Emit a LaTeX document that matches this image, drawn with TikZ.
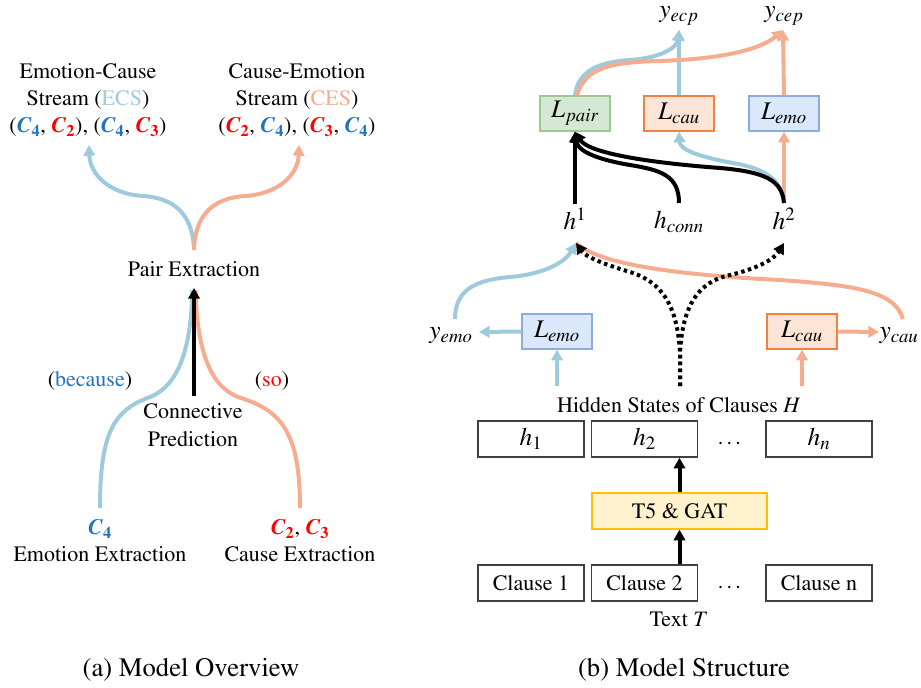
\documentclass[tikz,border=0pt]{standalone}
\usepackage[T1]{fontenc}
\usepackage{mathptmx}
\usetikzlibrary{arrows.meta}
\definecolor{lblue}{RGB}{158,202,222}
\definecolor{lorange}{RGB}{246,172,142}
\definecolor{cblue}{RGB}{31,114,196}
\definecolor{cred}{RGB}{255,0,0}
\definecolor{gfill}{RGB}{213,232,212}
\definecolor{gdraw}{RGB}{160,200,140}
\definecolor{ofill}{RGB}{252,229,214}
\definecolor{odraw}{RGB}{240,130,60}
\definecolor{bfill}{RGB}{218,232,252}
\definecolor{bdraw}{RGB}{143,170,220}
\definecolor{yfill}{RGB}{255,242,204}
\definecolor{ydraw}{RGB}{255,192,0}
\newcommand{\clz}[1]{\textbf{\textit{C}}\textsubscript{\textbf{#1}}}
\begin{document}
\begin{tikzpicture}[x=0.75pt,y=-0.75pt,
  font=\fontsize{16.5}{20.6}\selectfont,
  bcurve/.style={draw=lblue,line width=3pt},
  ocurve/.style={draw=lorange,line width=3pt},
  tip/.style={-{Triangle[length=8pt,width=8.5pt]}},
  blk/.style={draw=black,line width=3pt},
  dotline/.style={draw=black,line width=3pt,dash pattern=on 2.6pt off 2.6pt},
  mlab/.style={font=\fontsize{19}{22}\selectfont},
  lbox/.style={mlab,draw,line width=1pt,minimum width=52.5pt,minimum height=26.25pt,inner sep=0pt},
  hbox/.style={draw=black!75,line width=1.2pt,minimum width=79.5pt,minimum height=27pt,inner sep=0pt},
  txt/.style={inner sep=0pt,align=center}]
\useasboundingbox (0,0) rectangle (921,688);

% ---------------- left panel ----------------
\node[txt] (ecs) at (88,100) {Emotion-Cause\\Stream (\textcolor{lblue}{ECS})\\(\textcolor{cblue}{\clz{4}}, \textcolor{cred}{\clz{2}}), (\textcolor{cblue}{\clz{4}}, \textcolor{cred}{\clz{3}})};
\node[txt] (ces) at (297,100) {Cause-Emotion\\Stream (\textcolor{lorange}{CES})\\(\textcolor{cred}{\clz{2}}, \textcolor{cblue}{\clz{4}}), (\textcolor{cred}{\clz{3}}, \textcolor{cblue}{\clz{4}})};
\node[txt] (pair) at (194,269) {Pair Extraction};
\node[txt] (because) at (90,381) {(\textcolor{cblue}{because})};
\node[txt] (so) at (272,381) {(\textcolor{cred}{so})};
\node[txt] (conn) at (193,425) {Connective\\Prediction};
\node[txt] (c4) at (100,529) {\textcolor{cblue}{\clz{4}}};
\node[txt] (emoext) at (100,554) {Emotion Extraction};
\node[txt] (c23) at (300,529) {\textcolor{cred}{\clz{2}}, \textcolor{cred}{\clz{3}}};
\node[txt] (cauext) at (300,554) {Cause Extraction};

\coordinate (ecsend) at (89,145);
\coordinate (cesend) at (299,145);
\coordinate (ptop) at (194,250);
\coordinate (pbot) at (194,288);
\coordinate (cstart) at (194,396);
\coordinate (ebot) at (100,508);
\coordinate (cbot) at (300,508);

\draw[bcurve,tip] (ptop) .. controls (193,215) and (175,198) .. (143,196) .. controls (110,194) and (90,175) .. (ecsend);
\draw[ocurve,tip] (ptop) .. controls (195,215) and (213,198) .. (245,196) .. controls (278,194) and (298,175) .. (cesend);
\draw[bcurve] (ebot) .. controls (100,430) and (115,410) .. (150,397) .. controls (178,386) and (191,350) .. (192.5,290);
\draw[ocurve] (cbot) .. controls (300,430) and (280,410) .. (238,397) .. controls (210,386) and (197,350) .. (195.5,290);
\draw[blk,tip] (cstart) -- (pbot);

\node[font=\fontsize{20}{24}\selectfont] (capa) at (191,670) {(a) Model Overview};

% ---------------- right panel ----------------
\node[txt,mlab] (yecp) at (679,16) {$y_{ecp}$};
\node[txt,mlab] (ycep) at (784,16) {$y_{cep}$};
\node[lbox,fill=gfill,draw=gdraw] (lpair) at (575,113.5) {$L_{pair}$};
\node[lbox,fill=ofill,draw=odraw] (lcau) at (679,113.5) {$L_{cau}$};
\node[lbox,fill=bfill,draw=bdraw] (lemo) at (784,113.5) {$L_{emo}$};
\node[txt,mlab] (h1) at (575,219) {$h^1$};
\node[txt,mlab] (hconn) at (679,222) {$h_{conn}$};
\node[txt,mlab] (h2) at (784,219) {$h^2$};
\node[lbox,fill=bfill,draw=bdraw] (lemob) at (557,331.5) {$L_{emo}$};
\node[lbox,fill=ofill,draw=odraw] (lcaub) at (802,331.5) {$L_{cau}$};
\node[txt,mlab] (yemo) at (451,336) {$y_{emo}$};
\node[txt,mlab] (ycau) at (899,336) {$y_{cau}$};
\node[txt] (hid) at (679,405) {Hidden States of Clauses $H$};
\node[hbox,mlab] (hb1) at (531,439) {$h_1$};
\node[hbox,mlab] (hb2) at (644.5,439) {$h_2$};
\node[txt] (hdots) at (731,443) {\dots};
\node[hbox,mlab] (hbn) at (819,439) {$h_n$};
\node[draw=ydraw,fill=yfill,line width=1pt,minimum width=131.25pt,minimum height=27pt,inner sep=0pt] (t5) at (679.5,511) {T5 \& GAT};
\node[hbox] (cl1) at (531,583) {Clause 1};
\node[hbox] (cl2) at (644.5,583) {Clause 2};
\node[txt] (cdots) at (731,587) {\dots};
\node[hbox] (cln) at (819,583) {Clause n};
\node[txt] (textT) at (679,619) {Text $T$};

\coordinate (ecptip) at (679,30);
\coordinate (ceptip) at (783,30);
\coordinate (h1t) at (575,204);
\coordinate (hct) at (679,203);
\coordinate (h2t) at (784,203);
\coordinate (h1b) at (576,243);
\coordinate (h2b) at (784,243);
\coordinate (yemot) at (455,319);
\coordinate (ycaut) at (903,319);
\coordinate (yemoe) at (479,332);
\coordinate (ycaue) at (879,332);
\coordinate (bstart) at (557,386);
\coordinate (ostart) at (802,386);
\coordinate (dstart) at (680,386);
\coordinate (dsplit) at (680,352);

% top outputs
\draw[bcurve,tip] (lcau.north) -- (ecptip);
\draw[bcurve,tip] (lpair.north) .. controls (578,70) and (600,62) .. (630,60) .. controls (660,58) and (677,48) .. (ecptip);
\draw[ocurve,tip] (lemo.north) -- (ceptip);
\draw[ocurve,tip] ([xshift=1.5pt]lpair.north) .. controls (585,68) and (610,62) .. (660,61) .. controls (720,59) and (760,50) .. (ceptip);

% h to losses
\draw[bcurve,tip] (h2t) .. controls (782,178) and (762,168) .. (733,163) .. controls (700,157) and (680,150) .. (lcau.south);
\draw[ocurve,tip] (h2t) -- (lemo.south);
\draw[blk,tip] (h1t) -- (lpair.south);
\draw[blk,tip] (hct) .. controls (679,175) and (660,170) .. (630,165) .. controls (600,160) and (578,152) .. (lpair.south);
\draw[blk,tip] (h2t) .. controls (782,180) and (765,172) .. (720,168) .. controls (640,162) and (588,152) .. (lpair.south);

% lower part
\draw[ocurve] (ycaut) .. controls (895,290) and (850,285) .. (780,280) .. controls (680,275) and (600,265) .. (h1b);
\draw[bcurve,tip] (yemot) .. controls (455,290) and (475,280) .. (510,277) .. controls (545,274) and (565,262) .. (h1b);
\draw[dotline,tip] (dstart) -- (dsplit) .. controls (677,305) and (662,282) .. (630,272) .. controls (600,263) and (585,256) .. (h1b);
\draw[dotline,tip] (dstart) -- (dsplit) .. controls (683,305) and (698,282) .. (730,275) .. controls (760,268) and (775,258) .. (h2b);
\draw[bcurve,tip] (lemob.west) -- (yemoe);
\draw[ocurve,tip] (lcaub.east) -- (ycaue);
\draw[bcurve,tip] (bstart) -- (lemob.south);
\draw[ocurve,tip] (ostart) -- (lcaub.south);
\draw[blk,tip] (t5.north) -- (t5.north |- hb2.south);
\draw[blk,tip] (t5.south |- cl2.north) -- (t5.south);

\node[font=\fontsize{20}{24}\selectfont] (capb) at (684,670) {(b) Model Structure};
\end{tikzpicture}
\end{document}
